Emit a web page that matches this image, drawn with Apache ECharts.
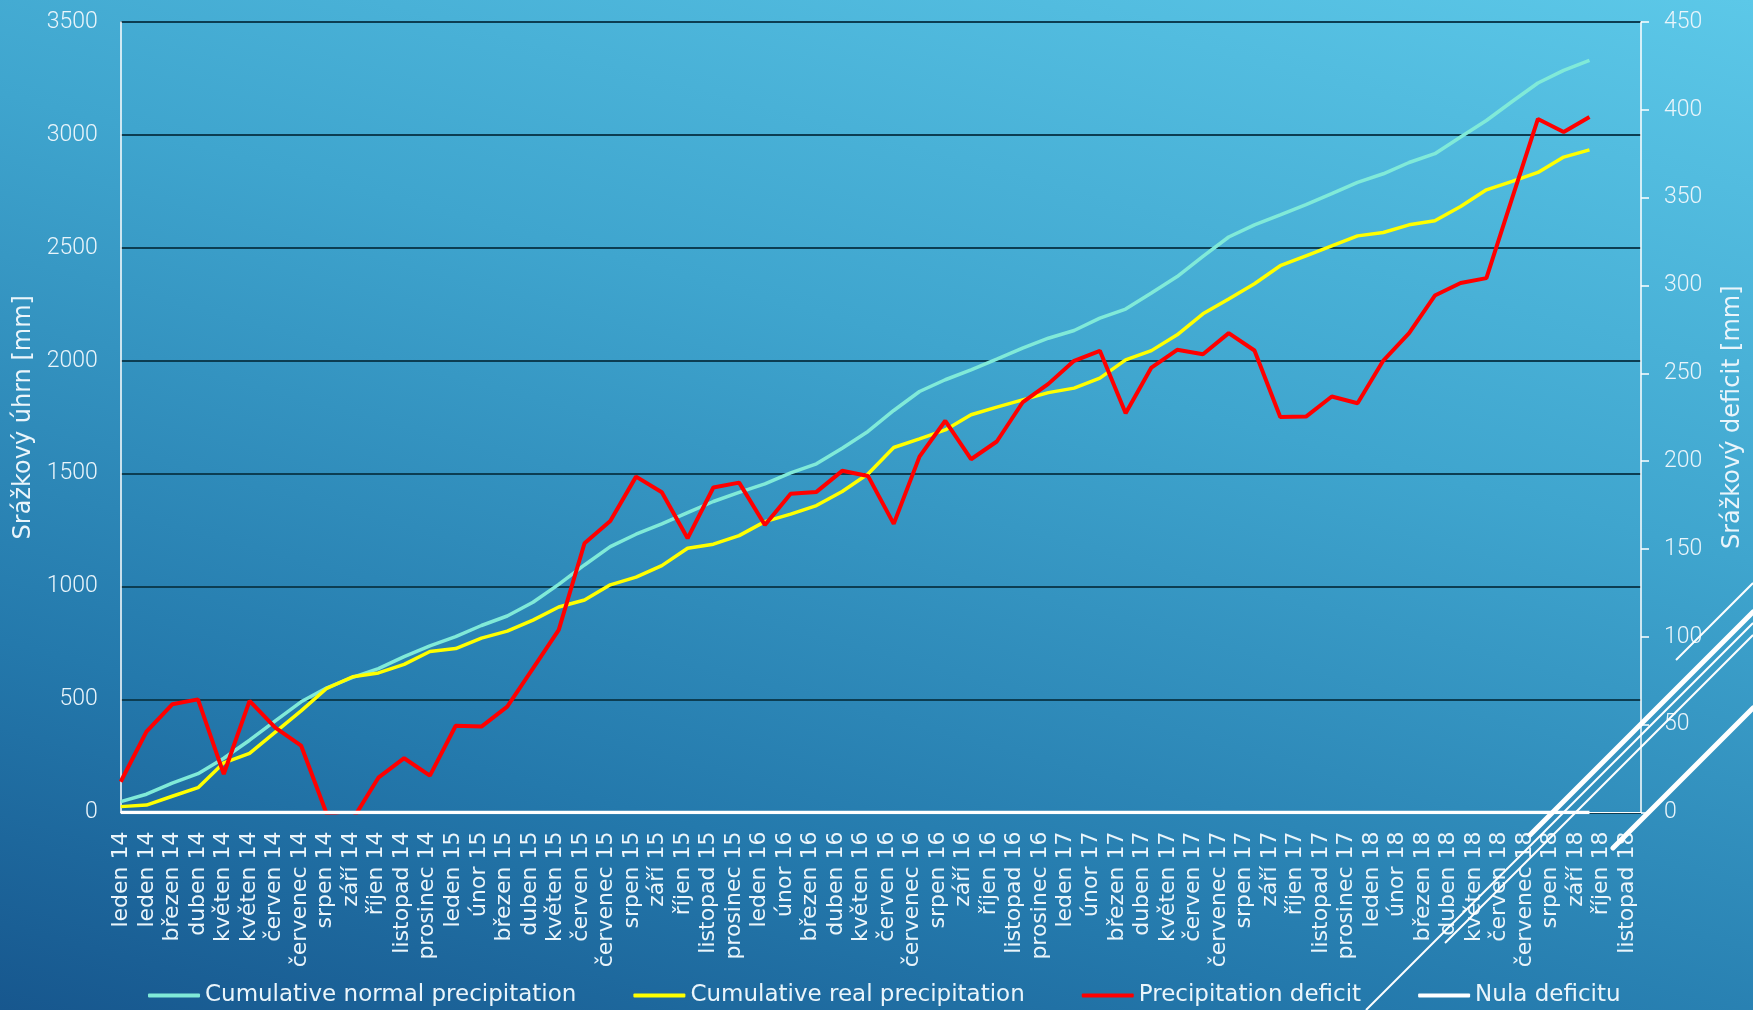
<!DOCTYPE html>
<html>
<head>
<meta charset="utf-8">
<script src="https://cdn.jsdelivr.net/npm/echarts@6/dist/echarts.min.js"></script>
<style>
html,body{margin:0;padding:0;}
#chart{width:1753px;height:1010px;background:linear-gradient(195deg,#5cc8e8 0%,#3fa5ce 38%,#2479ac 75%,#17578e 100%);}
</style>
</head>
<body>
<div id="chart"></div>
<script>
const categories = ['leden 14','leden 14','březen 14','duben 14','květen 14','květen 14','červen 14','červenec 14','srpen 14','září 14','říjen 14','listopad 14','prosinec 14',
'leden 15','únor 15','březen 15','duben 15','květen 15','červen 15','červenec 15','srpen 15','září 15','říjen 15','listopad 15','prosinec 15',
'leden 16','únor 16','březen 16','duben 16','květen 16','červen 16','červenec 16','srpen 16','září 16','říjen 16','listopad 16','prosinec 16',
'leden 17','únor 17','březen 17','duben 17','květen 17','červen 17','červenec 17','srpen 17','září 17','říjen 17','listopad 17','prosinec 17',
'leden 18','únor 18','březen 18','duben 18','květen 18','červen 18','červenec 18','srpen 18','září 18','říjen 18','listopad 18'];

const normalPrecip = [48,81,130,172,240,320,406,490,552,598,637,690,738,779,828,870,931,1010,1096,1177,
1232,1278,1328,1377,1417,1455,1504,1544,1613,1687,1780,1864,1916,1960,2007,2056,2100,2134,2189,2229,
2300,2373,2462,2548,2602,2646,2691,2740,2790,2828,2878,2917,2991,3064,3148,3230,3286,3330];

const realPrecip = [26,33,72,110,220,262,356,450,550,601,618,656,713,726,772,803,852,910,941,1008,
1042,1093,1170,1188,1226,1288,1321,1359,1421,1499,1616,1654,1694,1761,1795,1827,1859,1879,1923,2004,
2045,2115,2208,2274,2341,2421,2465,2509,2553,2568,2602,2620,2683,2757,2794,2834,2902,2934];

const deficit = [17.5,46,61.6,64.4,21.9,63.5,48.3,38.1,-1,-4,19.8,30.9,21,49.4,48.9,60.3,82,104,153.3,166,
191.2,182.3,156.1,185,187.8,163.7,181.4,182.5,194.5,191.6,164.3,202.6,223,201.1,211.2,233.4,244,257.1,262.8,227.3,
253.3,263.4,260.9,272.9,263,225.1,225.4,236.8,233,257.3,272.9,294.3,301.4,304.2,349.8,394.8,387.4,395.9];

const zeroDeficit = [0,0,0,0,0,0,0,0,0,0,0,0,0,0,0,0,0,0,0,0,0,0,0,0,0,0,0,0,0,0,
0,0,0,0,0,0,0,0,0,0,0,0,0,0,0,0,0,0,0,0,0,0,0,0,0,0,0,0];

const leftTicks = {min:0, max:3500, interval:500};
const rightTicks = {min:0, max:450, interval:50};

const slots = categories.map((c, i) => i);   // positions of the data axis

const chart = echarts.init(document.getElementById('chart'), null, {renderer:'canvas'});
const white = '#eaf5fb';
const gothic = 'DejaVu Sans';

chart.setOption({
  animation:false,
  backgroundColor:'transparent',
  grid:[
    {left:120.7, right:105, top:22, bottom:197.5, containLabel:false},
    {left:121.5, width:1505.7, top:22, bottom:197.5, containLabel:false}
  ],
  legend:{
    left:143, top:979, itemWidth:52, itemHeight:4, itemGap:57, icon:'roundRect',
    textStyle:{color:white, fontSize:23, fontFamily:gothic},
    data:['Cumulative normal precipitation','Cumulative real precipitation','Precipitation deficit','Nula deficitu']
  },
  xAxis:[
    {type:'category', gridIndex:0, data:slots, boundaryGap:false,
     axisLine:{show:true, lineStyle:{color:'#ffffff', width:1}}, axisTick:{show:false}, axisLabel:{show:false}, splitLine:{show:false}},
    {type:'category', gridIndex:1, data:categories, boundaryGap:false,
     axisLine:{show:false}, axisTick:{show:false}, splitLine:{show:false},
     axisLabel:{show:true, interval:0, rotate:90, margin:19, color:white, fontSize:22, fontFamily:gothic}}
  ],
  yAxis:[
    {type:'value', gridIndex:0, position:'left', min:leftTicks.min, max:leftTicks.max, interval:leftTicks.interval,
     name:'Srážkový úhrn [mm]', nameLocation:'middle', nameRotate:90, nameGap:84,
     nameTextStyle:{color:white, fontSize:24, fontFamily:gothic},
     axisLine:{show:true, lineStyle:{color:'#ffffff', width:1.5}}, axisTick:{show:false},
     axisLabel:{color:white, fontSize:23, fontFamily:'Roboto', fontWeight:300, margin:23, formatter:(v) => String(v), padding:[6,0,0,0]},
     splitLine:{show:true, lineStyle:{color:'#0c3d52', width:2}}},
    {type:'value', gridIndex:0, position:'right', min:rightTicks.min, max:rightTicks.max, interval:rightTicks.interval,
     name:'Srážkový deficit [mm]', nameLocation:'middle', nameRotate:90, nameGap:80,
     nameTextStyle:{color:white, fontSize:24, fontFamily:gothic},
     axisLine:{show:true, lineStyle:{color:'#ffffff', width:1.5}},
     axisTick:{show:true, inside:false, length:8, lineStyle:{color:'#ffffff', width:1.5}},
     axisLabel:{color:white, fontSize:23, fontFamily:'Roboto', fontWeight:300, margin:23, formatter:(v) => String(v)},
     splitLine:{show:false}},
    {type:'value', gridIndex:1, show:false, min:0, max:1}
  ],
  series:[
    {name:'Cumulative normal precipitation', type:'line', xAxisIndex:0, yAxisIndex:0, data:normalPrecip,
     symbol:'none', lineStyle:{color:'#80ead8', width:3.5}, itemStyle:{color:'#80ead8'}},
    {name:'Cumulative real precipitation', type:'line', xAxisIndex:0, yAxisIndex:0, data:realPrecip,
     symbol:'none', lineStyle:{color:'#ffff00', width:3.5}, itemStyle:{color:'#ffff00'}},
    {name:'Precipitation deficit', type:'line', xAxisIndex:0, yAxisIndex:1, data:deficit, clip:true,
     symbol:'none', lineStyle:{color:'#ff0000', width:4}, itemStyle:{color:'#ff0000'}},
    {name:'Nula deficitu', type:'line', xAxisIndex:0, yAxisIndex:1, data:zeroDeficit,
     symbol:'none', lineStyle:{color:'#ffffff', width:3.5}, itemStyle:{color:'#ffffff'}}
  ],
  graphic:[
    {type:'line', z:100, shape:{x1:1366,y1:1010,x2:1753,y2:623}, style:{stroke:'#ffffff', lineWidth:2}},
    {type:'line', z:100, shape:{x1:1445,y1:943,x2:1753,y2:635}, style:{stroke:'#ffffff', lineWidth:2}},
    {type:'line', z:100, shape:{x1:1530,y1:835,x2:1753,y2:612}, style:{stroke:'#ffffff', lineWidth:5, lineCap:'round'}},
    {type:'line', z:100, shape:{x1:1613,y1:848,x2:1753,y2:708}, style:{stroke:'#ffffff', lineWidth:5, lineCap:'round'}},
    {type:'line', z:100, shape:{x1:1676,y1:660,x2:1753,y2:583}, style:{stroke:'#ffffff', lineWidth:2}}
  ]
});
</script>
</body>
</html>
